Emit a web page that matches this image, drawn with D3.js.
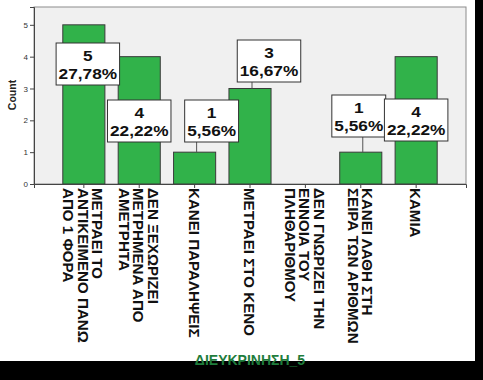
<!DOCTYPE html>
<html lang="el">
<head>
<meta charset="UTF-8">
<title>ΔΙΕΥΚΡΙΝΗΣΗ_5</title>
<script src="https://cdn.jsdelivr.net/npm/d3@7"></script>
<style>
  body { margin: 0; background: #000; }
  svg { display: block; }
</style>
</head>
<body>
<div id="chart"></div>
<script>
  const categories = [
    'ΜΕΤΡΑΕΙ ΤΟ\nΑΝΤΙΚΕΙΜΕΝΟ ΠΑΝΩ\nΑΠΟ 1 ΦΟΡΑ',
    'ΔΕΝ ΞΕΧΩΡΙΖΕΙ\nΜΕΤΡΗΜΕΝΑ ΑΠΟ\nΑΜΕΤΡΗΤΑ',
    'ΚΑΝΕΙ ΠΑΡΑΛΗΨΕΙΣ',
    'ΜΕΤΡΑΕΙ ΣΤΟ ΚΕΝΟ',
    'ΔΕΝ ΓΝΩΡΙΖΕΙ ΤΗΝ\nΕΝΝΟΙΑ ΤΟΥ\nΠΛΗΘΑΡΙΘΜΟΥ',
    'ΚΑΝΕΙ ΛΑΘΗ ΣΤΗ\nΣΕΙΡΑ ΤΩΝ ΑΡΙΘΜΩΝ',
    'ΚΑΜΙΑ'
  ];
  const counts = [5, 4, 1, 3, 0, 1, 4];
  const percents = ['27,78%', '22,22%', '5,56%', '16,67%', '', '5,56%', '22,22%'];
  const yTicks = [0, 1, 2, 3, 4, 5];

  // where SPSS put the label boxes (px)
  const labelDx = [4, 0, 17, 19, 0, -2, 0];
  const labelTop = [43, 100, 100, 40, 0, 95, 99];

  const w = 483, h = 380;
  const plot = { left: 34, right: 466, top: 7, bottom: 184 };
  const font = 'Liberation Sans, Arial, sans-serif';

  const svg = d3.select('#chart').append('svg')
    .attr('width', w)
    .attr('height', h)
    .style('background', '#000');

  svg.append('rect')
    .attr('width', 475).attr('height', 361)
    .attr('fill', '#fff');

  const x = d3.scaleBand()
    .domain(d3.range(categories.length))
    .range([plot.left, plot.right])
    .paddingInner(0.24)
    .paddingOuter(0.52);
  const y = d3.scaleLinear()
    .domain([0, 5.56])
    .range([plot.bottom, plot.top]);

  svg.append('rect')
    .attr('x', plot.left).attr('y', plot.top)
    .attr('width', plot.right - plot.left)
    .attr('height', plot.bottom - plot.top)
    .attr('fill', '#f0f0f0')
    .attr('stroke', '#8c8c8c')
    .attr('stroke-width', 1);

  svg.selectAll('rect.bar')
    .data(counts)
    .enter()
    .append('rect')
    .attr('class', 'bar')
    .attr('x', (d, i) => x(i))
    .attr('y', d => y(d))
    .attr('width', x.bandwidth())
    .attr('height', d => y(0) - y(d))
    .attr('fill', '#31b24a')
    .attr('stroke', '#3a3a3a')
    .attr('stroke-width', 1);

  // y axis
  const yAxis = d3.axisLeft(y).tickValues(yTicks).tickSize(4).tickPadding(2).tickFormat(d3.format('d'));
  const gy = svg.append('g')
    .attr('transform', `translate(${plot.left}, 0)`)
    .call(yAxis);
  gy.select('.domain').attr('stroke', '#444');
  gy.selectAll('line').attr('stroke', '#444');
  gy.selectAll('text')
    .attr('font-family', font)
    .attr('font-size', 8)
    .attr('fill', '#333');

  svg.append('text')
    .attr('transform', 'translate(16, 95) rotate(-90)')
    .attr('text-anchor', 'middle')
    .attr('font-family', font)
    .attr('font-weight', 'bold')
    .attr('font-size', 10.5)
    .attr('fill', '#222')
    .text('Count');

  // x axis
  const xAxis = d3.axisBottom(x).tickSize(4).tickFormat('');
  const gx = svg.append('g')
    .attr('transform', `translate(0, ${plot.bottom})`)
    .call(xAxis);
  gx.select('.domain').attr('stroke', '#444');
  gx.selectAll('line').attr('stroke', '#444');

  const lineGap = 14.4, cap = 10;
  categories.forEach((c, i) => {
    const lines = c.split('\n');
    const cx = x(i) + x.bandwidth() / 2 - 1 + (lineGap * (lines.length - 1) - cap) / 2;
    const t = svg.append('text')
      .attr('transform', `translate(${cx}, 188) rotate(90) scale(1.08, 1)`)
      .attr('font-family', font)
      .attr('font-weight', 'bold')
      .attr('font-size', 14)
      .attr('fill', '#111');
    lines.forEach((l, j) => {
      t.append('tspan').attr('x', 0).attr('dy', j === 0 ? 0 : lineGap).text(l);
    });
  });

  // value labels
  counts.forEach((d, i) => {
    if (d === 0) return;
    const bx = x(i) + x.bandwidth() / 2;
    const cx = bx + labelDx[i];
    const top = labelTop[i];
    const g = svg.append('g');
    const box = g.append('rect')
      .attr('y', top).attr('height', 42)
      .attr('fill', '#fff')
      .attr('stroke', '#333')
      .attr('stroke-width', 1);
    const t1 = g.append('text').attr('transform', `translate(${cx}, ${top + 18}) scale(1.15, 1)`).text(d);
    const t2 = g.append('text').attr('transform', `translate(${cx}, ${top + 36}) scale(1.15, 1)`).text(percents[i]);
    g.selectAll('text')
      .attr('text-anchor', 'middle')
      .attr('font-family', font)
      .attr('font-weight', 'bold')
      .attr('font-size', 15)
      .attr('fill', '#111');
    const tw = 1.15 * Math.max(t1.node().getComputedTextLength(), t2.node().getComputedTextLength());
    box.attr('x', cx - tw / 2 - 2.5).attr('width', tw + 5);
    if (top + 42 < y(d)) {
      g.insert('line', 'rect')
        .attr('x1', bx + 2).attr('x2', bx + 2)
        .attr('y1', top + 42).attr('y2', y(d))
        .attr('stroke', '#555');
    }
  });

  svg.append('text')
    .attr('x', 250).attr('y', 365)
    .attr('text-anchor', 'middle')
    .attr('font-family', font)
    .attr('font-weight', 'bold')
    .attr('font-size', 14)
    .attr('fill', '#1f7d3c')
    .text('ΔΙΕΥΚΡΙΝΗΣΗ_5');
</script>
</body>
</html>
